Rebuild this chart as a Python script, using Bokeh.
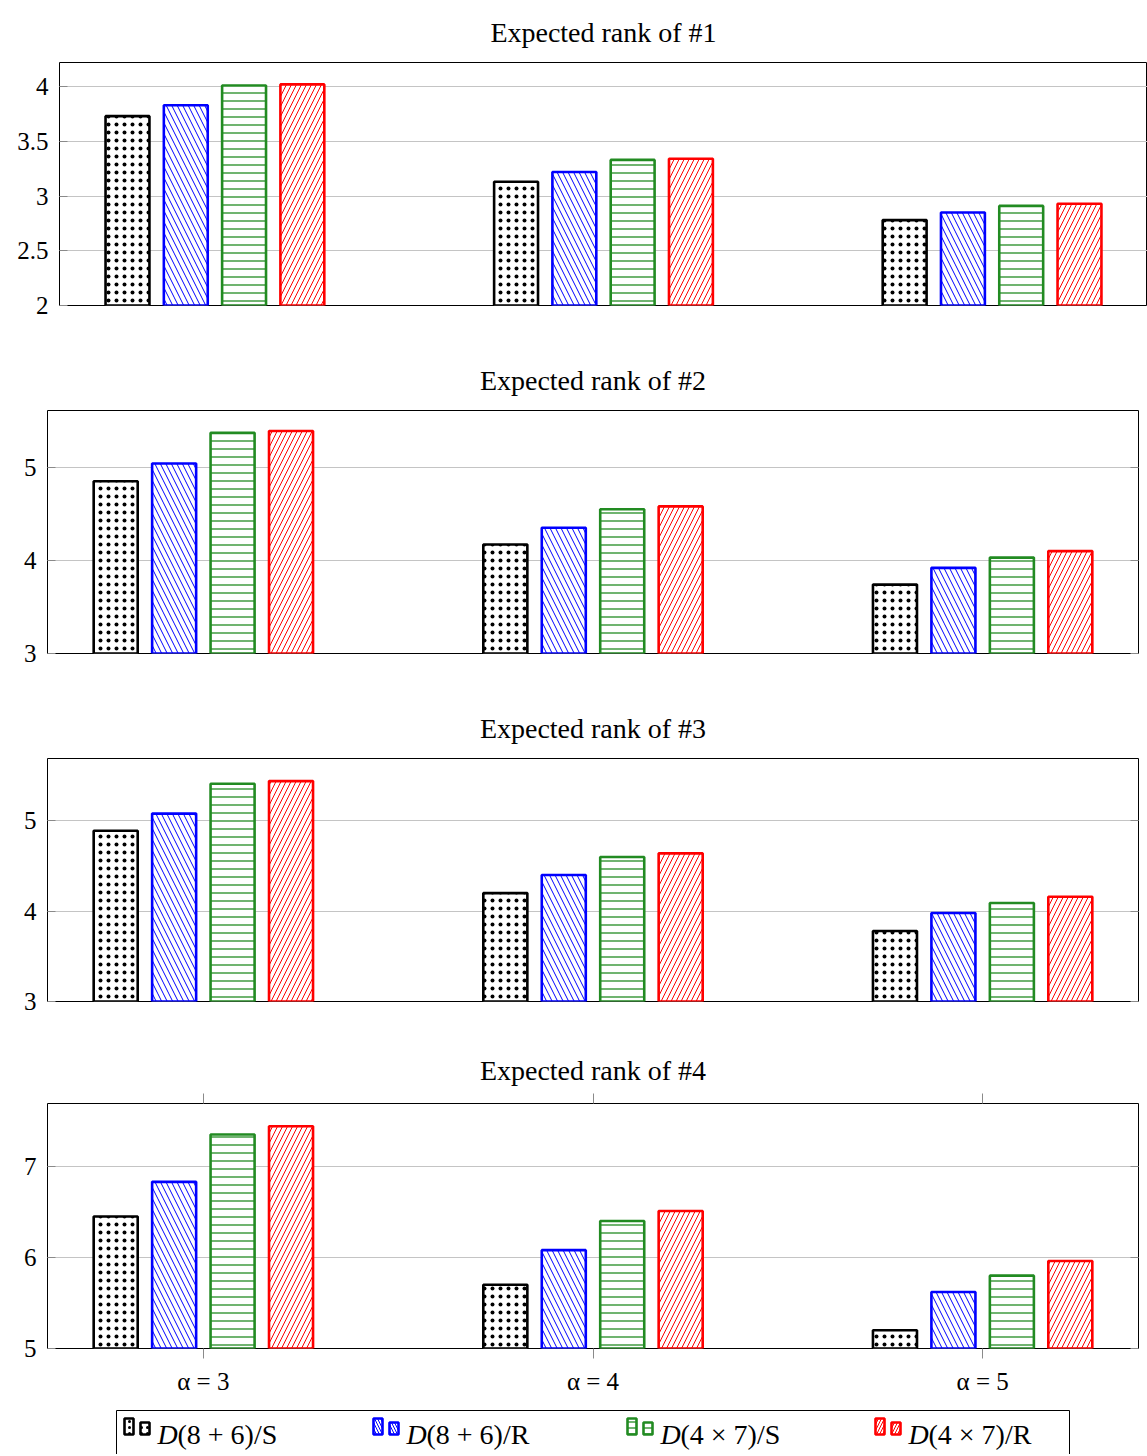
from bokeh.plotting import figure
from bokeh.models import Range1d, LinearAxis, FixedTicker, ColumnDataSource
from bokeh.transform import dodge
from bokeh.layouts import column, row
from bokeh.core.properties import value
from bokeh.embed import file_html
from bokeh.resources import INLINE

# ---------------- data ----------------
alphas = [3, 4, 5]
alpha_labels = ["α = 3", "α = 4", "α = 5"]
series_names = ["D(8 + 6)/S", "D(8 + 6)/R", "D(4 × 7)/S", "D(4 × 7)/R"]
titles = ["Expected rank of #1", "Expected rank of #2",
          "Expected rank of #3", "Expected rank of #4"]

r1_s86 = [3.73, 3.13, 2.78]
r1_r86 = [3.83, 3.22, 2.85]
r1_s47 = [4.01, 3.33, 2.91]
r1_r47 = [4.02, 3.34, 2.93]

r2_s86 = [4.85, 4.17, 3.74]
r2_r86 = [5.04, 4.35, 3.92]
r2_s47 = [5.37, 4.55, 4.03]
r2_r47 = [5.39, 4.58, 4.10]

r3_s86 = [4.89, 4.20, 3.78]
r3_r86 = [5.08, 4.40, 3.98]
r3_s47 = [5.41, 4.60, 4.09]
r3_r47 = [5.44, 4.64, 4.16]

r4_s86 = [6.45, 5.70, 5.20]
r4_r86 = [6.83, 6.08, 5.62]
r4_s47 = [7.35, 6.40, 5.80]
r4_r47 = [7.44, 6.51, 5.96]

yticks1 = [2, 2.5, 3, 3.5, 4]
yticks2 = [3, 4, 5]
yticks3 = [3, 4, 5]
yticks4 = [5, 6, 7]

# ---------------- style ----------------
FONT = "Liberation Serif"
styles = [
    dict(line_color="black", hatch_color="black", hatch_pattern="dot", hatch_scale=8, hatch_weight=2.6),
    dict(line_color="blue", hatch_color="blue", hatch_pattern="left_diagonal_line", hatch_scale=11, hatch_weight=1),
    dict(line_color="#228B22", hatch_color="#228B22", hatch_pattern="horizontal_line", hatch_scale=8, hatch_weight=1.3),
    dict(line_color="red", hatch_color="red", hatch_pattern="right_diagonal_line", hatch_scale=10, hatch_weight=1),
]
offsets = [-0.225, -0.075, 0.075, 0.225]
BAR_W = 0.113
GRID = "#c4c4c4"
TICK = "#8a8a8a"
W = 1147


def hidden_axis(ticks, tin, tout):
    return LinearAxis(ticker=FixedTicker(ticks=ticks), major_label_text_font_size="1px",
                      major_label_text_color=None, major_label_standoff=0,
                      major_tick_in=tin, major_tick_out=tout,
                      major_tick_line_color=TICK, minor_tick_line_color=None,
                      axis_line_color=None)


def make_panel(title, series, yr, yticks, left_border, right_border, height,
               bottom_border, title_standoff, right_ticks=True, last=False):
    p = figure(width=W, height=height, x_range=Range1d(2.6, 5.4),
               y_range=Range1d(*yr), output_backend="svg", toolbar_location=None,
               title=title, min_border_left=left_border,
               min_border_right=right_border, min_border_top=0,
               min_border_bottom=bottom_border)
    p.title.text_font = FONT
    p.title.text_font_size = "28px"
    p.title.text_font_style = "normal"
    p.title.text_color = "black"
    p.title.align = "center"
    p.title.standoff = title_standoff
    p.outline_line_color = "black"
    p.outline_line_width = 1
    p.outline_line_alpha = 1

    src = ColumnDataSource(dict(alpha=alphas, s0=series[0], s1=series[1],
                                s2=series[2], s3=series[3]))
    for i in range(4):
        p.vbar(x=dodge("alpha", offsets[i], range=p.x_range), top=f"s{i}",
               bottom=yr[0], width=BAR_W, source=src, fill_color="white",
               line_width=2.6, **styles[i])

    p.xgrid.visible = False
    p.ygrid.ticker = FixedTicker(ticks=yticks)
    p.ygrid.grid_line_color = GRID
    p.ygrid.grid_line_width = 1

    ya = p.yaxis[0]
    ya.ticker = FixedTicker(ticks=yticks)
    ya.axis_line_color = None
    ya.major_tick_in = 8
    ya.major_tick_out = 0
    ya.major_tick_line_color = TICK
    ya.minor_tick_line_color = None
    ya.major_label_text_font = FONT
    ya.major_label_text_font_size = "25px"
    ya.major_label_standoff = 11
    ya.major_label_text_color = "black"

    if right_ticks:
        p.add_layout(hidden_axis(yticks, 8, 0), "right")

    xa = p.xaxis[0]
    if not last:
        xa.visible = False
    else:
        xa.ticker = FixedTicker(ticks=alphas)
        xa.major_label_overrides = {a: lab for a, lab in zip(alphas, alpha_labels)}
        xa.axis_line_color = None
        xa.major_tick_in = 0
        xa.major_tick_out = 10
        xa.major_tick_line_color = TICK
        xa.minor_tick_line_color = None
        xa.major_label_text_font = FONT
        xa.major_label_text_font_size = "25px"
        xa.major_label_standoff = 9
        xa.major_label_text_color = "black"
        p.add_layout(hidden_axis(alphas, 0, 10), "above")
    return p


p1 = make_panel(titles[0], [r1_s86, r1_r86, r1_s47, r1_r47], (2, 4.22), yticks1,
                59, 0, 348, 43, 29, right_ticks=False)
p2 = make_panel(titles[1], [r2_s86, r2_r86, r2_s47, r2_r47], (3, 5.61), yticks2,
                47, 9, 348, 43, 29)
p3 = make_panel(titles[2], [r3_s86, r3_r86, r3_s47, r3_r47], (3, 5.69), yticks3,
                47, 9, 348, 43, 29)
p4 = make_panel(titles[3], [r4_s86, r4_r86, r4_s47, r4_r47], (5, 7.69), yticks4,
                47, 9, 356, 52, 16, last=True)

# ---------------- legend (separate strip) ----------------
LH = 54
leg = figure(width=W, height=LH, x_range=Range1d(0, W), y_range=Range1d(LH, 0),
             output_backend="svg", toolbar_location=None, min_border=0)
leg.axis.visible = False
leg.grid.visible = False
leg.outline_line_color = None
leg.quad(left=[116], right=[1069], top=[10], bottom=[LH + 10], fill_color=None,
         line_color="black", line_width=1)
item_x = [124, 373, 627, 875]
for i, name in enumerate(series_names):
    x0 = item_x[i]
    st = dict(styles[i])
    st["hatch_scale"] = 6
    leg.quad(left=[x0, x0 + 16], right=[x0 + 9, x0 + 25], top=[18, 22],
             bottom=[34, 34], fill_color="white", line_width=2.6, **st)
    leg.text(x=[x0 + 33], y=[34], text=[name[0]], text_font=value(FONT),
             text_font_size="28px", text_font_style="italic", text_color="black",
             text_baseline="middle", text_align="left")
    leg.text(x=[x0 + 53], y=[34], text=[name[1:]], text_font=value(FONT),
             text_font_size="28px", text_color="black",
             text_baseline="middle", text_align="left")

layout = column(row(p1), row(p2), row(p3), row(p4), row(leg), spacing=0)
open("out.html", "w").write(file_html(layout, INLINE))
